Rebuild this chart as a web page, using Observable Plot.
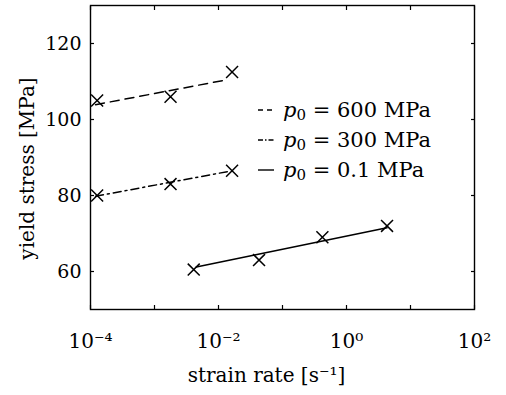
<!DOCTYPE html>
<html>
<head>
<meta charset="utf-8">
<script src="https://cdn.jsdelivr.net/npm/d3@7"></script>
<script src="https://cdn.jsdelivr.net/npm/@observablehq/plot@0.6"></script>
<style>
  html, body { margin: 0; padding: 0; background: white; }
  #wrap { position: relative; width: 506px; height: 395px; }
  #legend { position: absolute; left: 256px; top: 95px; font-family: "DejaVu Serif", serif; font-size: 21px; color: black; }
  #legend .row { height: 30px; display: flex; align-items: center; white-space: nowrap; }
  #legend svg { width: 20px; height: 10px; margin-right: 7px; }
  #legend sub { font-size: 15px; vertical-align: -3px; line-height: 0; }
</style>
</head>
<body>
<div id="wrap"><div id="legend"></div></div>
<script>
// Measured points (strain rate [1/s], yield stress [MPa])
const rate600 = [1.27e-4, 1.78e-3, 1.63e-2];
const stress600 = [105, 106, 112.5];
const rate300 = [1.27e-4, 1.78e-3, 1.63e-2];
const stress300 = [80, 83, 86.5];
const rate01 = [4.1e-3, 4.3e-2, 0.42, 4.3];
const stress01 = [60.5, 63, 69, 72];

// Fitted lines (end points)
const fitRate600 = [1.2e-4, 1.4e-2];
const fitStress600 = [103.9, 110.5];
const fitRate300 = [1.2e-4, 1.4e-2];
const fitStress300 = [79.8, 86.3];
const fitRate01 = [4.5e-3, 4.3];
const fitStress01 = [61.2, 71.5];

const seriesNames = ["600 MPa", "300 MPa", "0.1 MPa"];
const seriesDash = ["9,6", "8,4,2,4", null];

const xTicks = [1e-4, 1e-3, 1e-2, 1e-1, 1, 1e1, 1e2];
const xLabelTicks = [1e-4, 1e-2, 1, 1e2];
const xTickLabels = ["10\u207B\u2074", "10\u207B\u00B2", "10\u2070", "10\u00B2"];
const yTicks = [60, 80, 100, 120];
const xTitle = "strain rate [s\u207B\u00B9]";
const yTitle = "yield stress [MPa]";

const pts = (xs, ys) => xs.map((x, i) => ({x, y: ys[i]}));
const points = [pts(rate600, stress600), pts(rate300, stress300), pts(rate01, stress01)];
const fits = [pts(fitRate600, fitStress600), pts(fitRate300, fitStress300), pts(fitRate01, fitStress01)];

const chart = Plot.plot({
  width: 506,
  height: 395,
  marginLeft: 90,
  marginRight: 32,
  marginTop: 5,
  marginBottom: 86,
  x: {type: "log", domain: [1e-4, 1e2]},
  y: {domain: [50, 130]},
  style: {fontFamily: "DejaVu Serif, serif", fontSize: "19px", background: "white", color: "black"},
  marks: [
    Plot.axisX({ticks: xTicks, tickSize: -4, tickFormat: () => "", label: null, strokeWidth: 1.2}),
    Plot.axisX({anchor: "top", ticks: xTicks, tickSize: -4, tickFormat: () => "", label: null, strokeWidth: 1.2}),
    Plot.axisX({ticks: xLabelTicks, tickSize: 0, tickPadding: 24, label: null, tickFormat: d => xTickLabels[xLabelTicks.indexOf(d)], fontSize: 20}),
    Plot.axisY({ticks: yTicks, tickSize: -4, tickFormat: () => "", label: null, strokeWidth: 1.2}),
    Plot.axisY({anchor: "right", ticks: yTicks, tickSize: -4, tickFormat: () => "", label: null, strokeWidth: 1.2}),
    Plot.axisY({ticks: yTicks, tickSize: 0, tickPadding: 9, label: null, tickFormat: d => String(d), fontSize: 19}),
    Plot.frame({stroke: "black", strokeWidth: 1.4}),
    ...fits.map((f, i) => Plot.line(f, {x: "x", y: "y", stroke: "black", strokeWidth: 1.5, strokeDasharray: seriesDash[i]})),
    ...points.map(p => Plot.dot(p, {x: "x", y: "y", symbol: "times", r: 5.5, stroke: "black", strokeWidth: 1.5})),
    Plot.text([xTitle], {frameAnchor: "bottom", dy: 66, dx: -16, text: d => d, fontSize: 20, lineAnchor: "middle", textAnchor: "middle"}),
    Plot.text([yTitle], {frameAnchor: "left", dx: -63, dy: 11, rotate: -90, text: d => d, fontSize: 20, lineAnchor: "middle", textAnchor: "middle"})
  ]
});
document.getElementById("wrap").prepend(chart);

const legend = document.getElementById("legend");
seriesNames.forEach((name, i) => {
  const row = document.createElement("div");
  row.className = "row";
  const dash = i === 1 ? "5,2,1.5,2" : (i === 0 ? "5,4" : null);
  row.innerHTML = `<svg viewBox="0 0 20 10"><line x1="2" y1="5" x2="18" y2="5" stroke="black" stroke-width="1.4" ${dash ? `stroke-dasharray="${dash}"` : ""}/></svg><span><i>p</i><sub>0</sub> = ${name}</span>`;
  legend.appendChild(row);
});
</script>
</body>
</html>
